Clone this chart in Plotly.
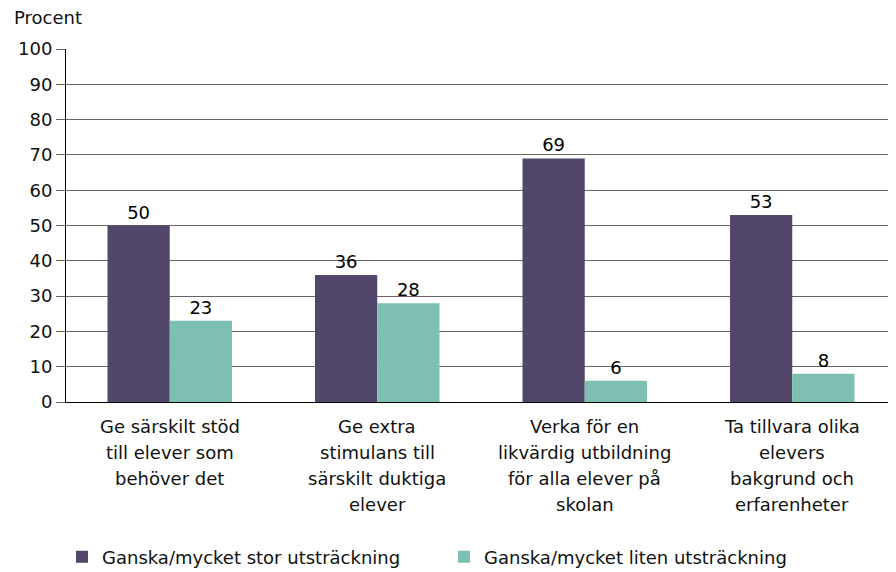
import plotly.graph_objects as go

PURPLE = '#52476b'
TEAL = '#7dbfb0'
GRID = '#666666'
FONT = 'DejaVu Sans, Liberation Sans, sans-serif'

categories = [
    'Ge särskilt stöd<br>till elever som<br>behöver det',
    'Ge extra<br>stimulans till<br>särskilt duktiga<br>elever',
    'Verka för en<br>likvärdig utbildning<br>för alla elever på<br>skolan',
    'Ta tillvara olika<br>elevers<br>bakgrund och<br>erfarenheter',
]
stor = [50, 36, 69, 53]
liten = [23, 28, 6, 8]
series_names = ['Ganska/mycket stor utsträckning', 'Ganska/mycket liten utsträckning']
y_ticks = list(range(0, 101, 10))

fig = go.Figure()
for name, vals, col in [(series_names[0], stor, PURPLE), (series_names[1], liten, TEAL)]:
    fig.add_trace(go.Bar(
        x=categories, y=vals, name=name, marker_color=col, marker_line_width=0,
        text=[str(v) for v in vals], textposition='outside', cliponaxis=False,
        textfont=dict(size=18, color='black', family=FONT),
    ))

# category labels as annotations so the line spacing can be wider than plotly's 1.3em
for cat in categories:
    for i, line in enumerate(cat.split('<br>')):
        fig.add_annotation(
            x=cat, y=0, xref='x', yref='y', text=line, showarrow=False,
            yanchor='middle', yshift=-24 - 26 * i,
            font=dict(size=18, color='#111111', family=FONT),
        )

# page body has an 8px margin, so the figure sits 8px in from the top-left corner
fig.update_layout(
    width=888, height=564,
    margin=dict(l=58, r=0, t=41, b=170),
    plot_bgcolor='white', paper_bgcolor='white',
    font=dict(family=FONT, size=18, color='#111111'),
    barmode='group', bargap=0.4, bargroupgap=0,
    showlegend=True,
    legend=dict(
        orientation='h', xref='container', x=0.0608, xanchor='left',
        yref='container', y=0.0266, yanchor='middle',
        font=dict(size=18, family=FONT), entrywidth=337, entrywidthmode='pixels',
        itemclick=False,
    ),
)
fig.update_xaxes(showticklabels=False, showline=True, linecolor='black', linewidth=1,
                 ticks='', showgrid=False)
fig.update_yaxes(range=[0, 100], tickvals=y_ticks, showgrid=True, gridcolor=GRID, gridwidth=1,
                 showline=True, linecolor='black', linewidth=1,
                 ticks='outside', ticklen=9, tickcolor=GRID, tickfont=dict(size=18),
                 zeroline=False)
fig.add_annotation(x=0, xref='paper', xanchor='left', xshift=-54, y=1, yref='paper',
                   yanchor='middle', yshift=32,
                   text='Procent', showarrow=False, font=dict(size=18, family=FONT))

fig.write_html('out.html')
